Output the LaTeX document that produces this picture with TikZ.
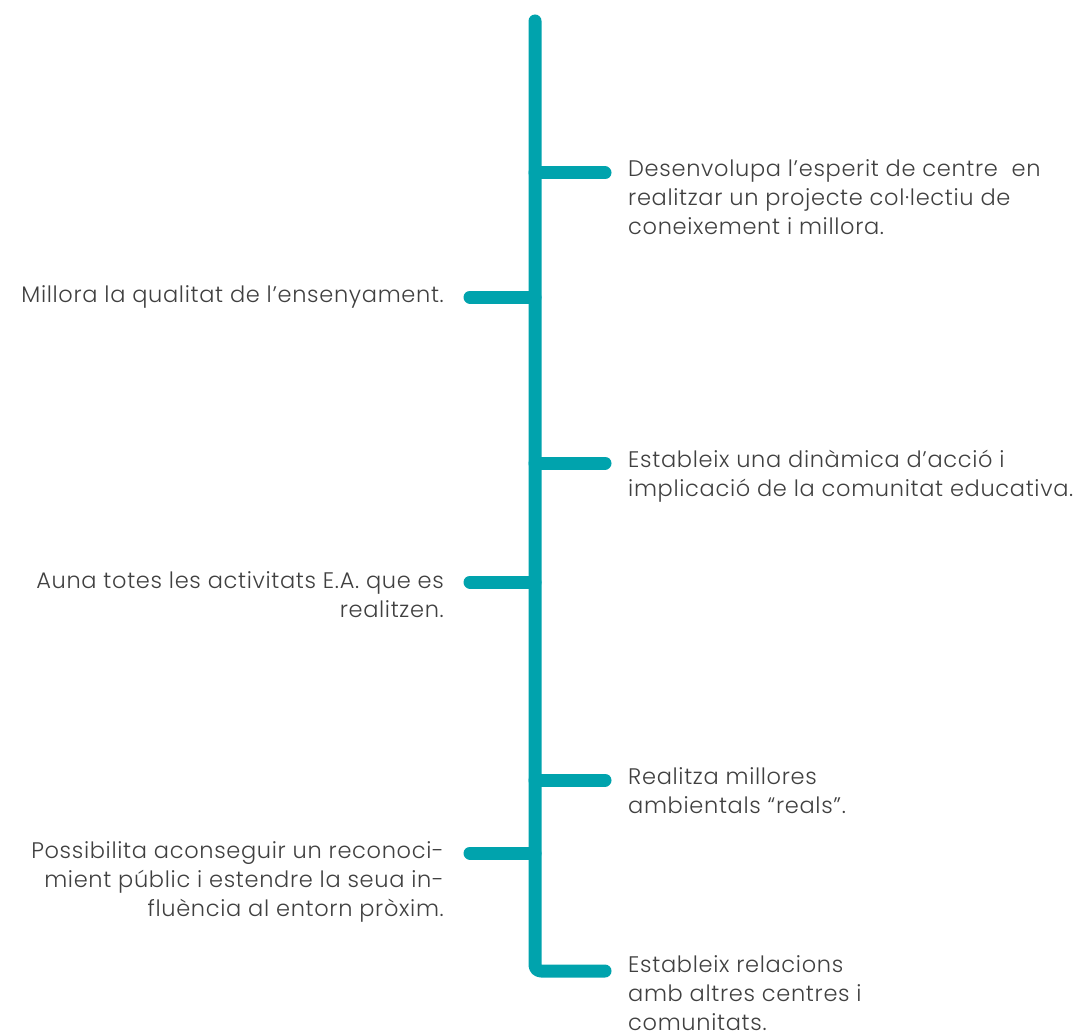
\documentclass[tikz,border=0pt]{standalone}
\usepackage{fontspec}
\setmainfont{Poppins}[UprightFont=* Light,LetterSpace=3]
\usepackage{xcolor}
\usepackage{tikz}
\usetikzlibrary{calc}
\definecolor{qqa3ad}{rgb}{0.,0.639,0.678}
\definecolor{dtext}{rgb}{0.25,0.25,0.25}
\tikzstyle{every node}=[font=\fontsize{22.5}{29}\selectfont,text=dtext,inner sep=0pt]
\tikzstyle{txtR}=[anchor=north west,align=left]
\tikzstyle{txtL}=[anchor=north east,align=right]
\tikzstyle{branch}=[line width=13pt,color=qqa3ad,line cap=round]

\begin{document}
\begin{tikzpicture}[line cap=round,line join=round,x=1pt,y=-1pt]
            \useasboundingbox (0,0) rectangle (1078,1032);
            % spine
            \coordinate (top) at (535,21);
            \coordinate (bot) at (535,971);
            \coordinate (p1) at (535,173);
            \coordinate (p2) at (535,297);
            \coordinate (p3) at (535,463);
            \coordinate (p4) at (535,582);
            \coordinate (p5) at (535,780);
            \coordinate (p6) at (535,853);
            \coordinate (e1) at (605,173);
            \coordinate (e2) at (470,297);
            \coordinate (e3) at (605,463);
            \coordinate (e4) at (470,582);
            \coordinate (e5) at (605,780);
            \coordinate (e6) at (470,853);
            \coordinate (e7) at (605,971);
            \draw [branch,rounded corners=6pt] (top) -- (bot) -- (e7);
            \foreach \i in {1,...,6}
            \draw [branch] (p\i) -- (e\i);
            % texts
            \node [txtR] (t1) at (628,159) {Desenvolupa l’esperit de centre \ en\\realitzar un projecte col·lectiu de\\coneixement i millora.};
            \node [txtL] (t2) at (444,285) {Millora la qualitat de l’ensenyament.};
            \node [txtR] (t3) at (628,450) {Estableix una dinàmica d’acció i\\implicació de la comunitat educativa.};
            \node [txtL] (t4) at (444,571) {Auna totes les activitats E.A. que es\\realitzen.};
            \node [txtR] (t5) at (628,767) {Realitza millores\\ambientals “reals”.};
            \node [txtL] (t6) at (444,841) {Possibilita aconseguir un reconoci-\\mient públic i estendre la seua in-\\fluència al entorn pròxim.};
            \node [txtR] (t7) at (628,955) {Estableix relacions\\amb altres centres i\\comunitats.};
\end{tikzpicture}
\end{document}
